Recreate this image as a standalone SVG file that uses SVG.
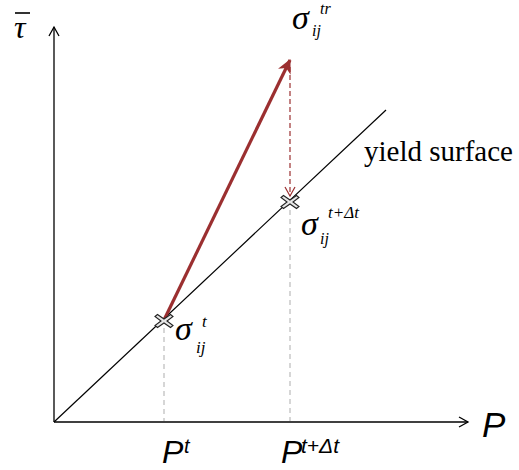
<svg xmlns="http://www.w3.org/2000/svg" width="519" height="470" viewBox="0 0 519 470">
<style>
.ax{stroke:#000;stroke-width:1.3;fill:none}
.gd{stroke:#bbb;stroke-width:1.2;stroke-dasharray:5,4;fill:none}
.serif{font-family:"Liberation Serif",serif;font-style:italic;fill:#000}
.sans{font-family:"Liberation Sans",sans-serif;font-style:italic;fill:#000}
.mk{fill:#e6e6e6;stroke:#222;stroke-width:1.1}
</style>
<defs>
<marker id="open" markerWidth="12" markerHeight="12" refX="10" refY="6" orient="auto" markerUnits="userSpaceOnUse">
<path d="M1,1 L10,6 L1,11" fill="none" stroke="#000" stroke-width="1.3"/>
</marker>
<marker id="redhead" markerWidth="16" markerHeight="16" refX="13" refY="8" orient="auto" markerUnits="userSpaceOnUse">
<path d="M0,1 L14,8 L0,15 L4,8 Z" fill="#9b2f30"/>
</marker>
<marker id="redopen" markerWidth="12" markerHeight="12" refX="10" refY="6" orient="auto" markerUnits="userSpaceOnUse">
<path d="M1,1 L10,6 L1,11" fill="none" stroke="#9b2f30" stroke-width="1.2"/>
</marker>
<path id="cross" class="mk" d="M-9,-4.5 L-6.5,-6.5 L0,-2 L6.5,-6.5 L9,-4.5 L3,0 L9,4.5 L6.5,6.5 L0,2 L-6.5,6.5 L-9,4.5 L-3,0 Z"/>
</defs>
<g id="connectors">
<line class="ax" x1="54" y1="422" x2="54" y2="27" marker-end="url(#open)"/>
<line class="ax" x1="54" y1="422" x2="468" y2="422" marker-end="url(#open)"/>
<line x1="54" y1="422" x2="386" y2="110" stroke="#000" stroke-width="1.2"/>
<line class="gd" x1="164" y1="328" x2="164" y2="421"/>
<line class="gd" x1="290" y1="210" x2="290" y2="421"/>
<line x1="164" y1="320" x2="290" y2="60" stroke="#9b2f30" stroke-width="3.2" marker-end="url(#redhead)"/>
<line x1="290" y1="67" x2="290" y2="196" stroke="#9b2f30" stroke-width="1.2" stroke-dasharray="5,3" marker-end="url(#redopen)"/>
</g>
<g id="node-t">
<use href="#cross" x="164" y="321"/>
<text class="serif" x="175" y="340" font-size="34">σ</text>
<text class="serif" x="196" y="353" font-size="17">ij</text>
<text class="serif" x="202" y="327" font-size="17">t</text>
</g>
<g id="node-tdt">
<use href="#cross" x="290" y="202"/>
<text class="serif" x="301" y="235" font-size="34">σ</text>
<text class="serif" x="320" y="244" font-size="16">ij</text>
<text class="serif" x="328" y="218" font-size="17">t+Δt</text>
</g>
<g id="node-tr">
<text class="serif" x="292" y="29" font-size="34">σ</text>
<text class="serif" x="312" y="36" font-size="16">ij</text>
<text class="serif" x="320" y="14" font-size="16">tr</text>
</g>
<g id="labels">
<text class="serif" x="14" y="38" font-size="32">τ</text>
<line x1="15" y1="13" x2="30" y2="13" stroke="#000" stroke-width="1.6"/>
<text x="364" y="161" font-family="Liberation Serif,serif" font-size="29">yield surface</text>
<text class="sans" x="482" y="437" font-size="35">P</text>
<text class="sans" x="162" y="463" font-size="32">P</text>
<text class="sans" x="184" y="453" font-size="20">t</text>
<text class="sans" x="281" y="463" font-size="32">P</text>
<text class="sans" x="301" y="453" font-size="21">t+Δt</text>
</g>
</svg>
